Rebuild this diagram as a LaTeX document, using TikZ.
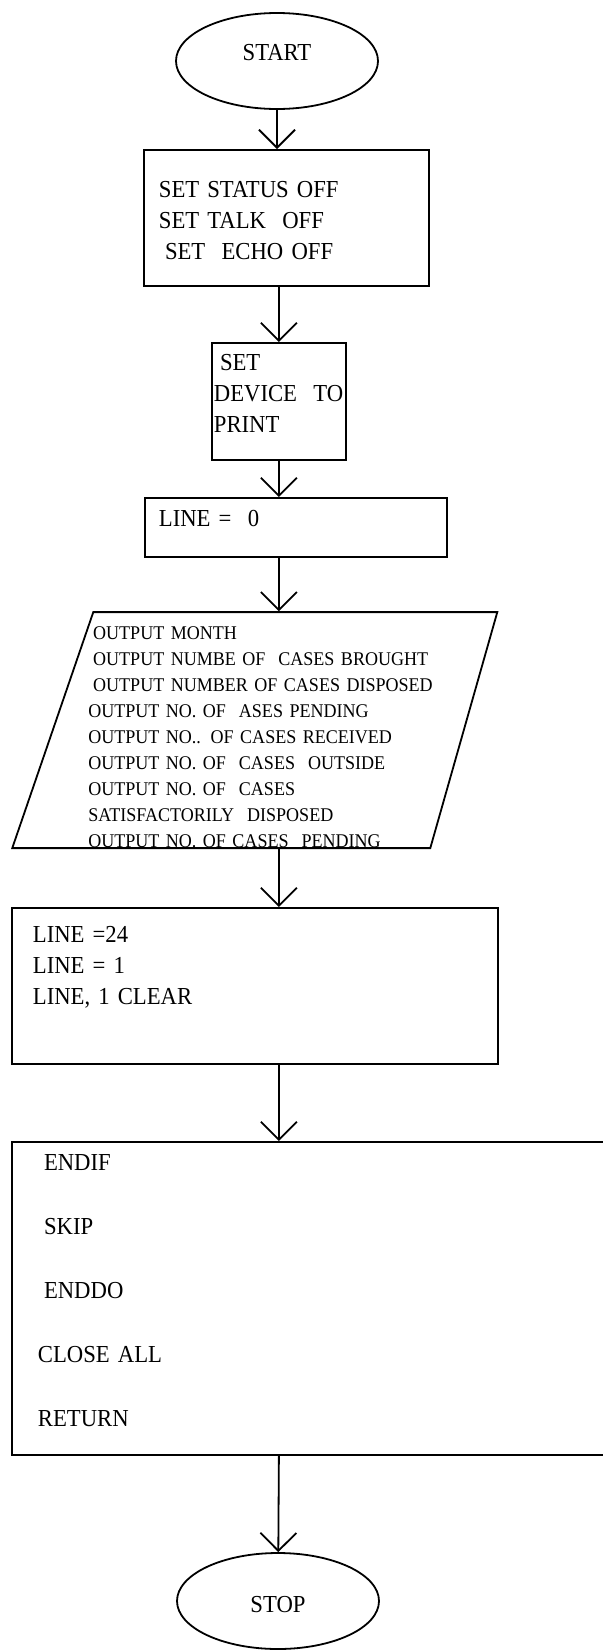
\documentclass[tikz,border=0pt]{standalone}
\usepackage{fontspec}
\setmainfont{Liberation Serif}[FakeStretch=0.93]
\usetikzlibrary{shapes.geometric,arrows.meta}

\tikzset{
  term/.style={ellipse, draw, minimum width=101pt, minimum height=48pt, inner sep=0pt},
  procbox/.style={rectangle, draw, anchor=north west, inner sep=0pt, align=left, text height=8pt},
  iobox/.style={trapezium, draw, trapezium stretches=true, trapezium left angle=68.9,
    trapezium right angle=107.7, inner xsep=-2.5pt, inner ysep=0pt, align=left, text height=7pt},
  flow/.style={-{Straight Barb[length=9pt,width=18pt]}},
}
\newcommand{\lsp}{\hspace*{0.25em}}

\begin{document}
\begin{tikzpicture}[x=0.5pt, y=-0.5pt, line width=0.9pt, font=\fontsize{12.2}{15.5}\selectfont]
\useasboundingbox (0,0) rectangle (603,1650);

\node[term, text height=8.75pt, text depth=9.75pt] (start) at (277,61) {START};

\node[procbox, minimum width=142.5pt, minimum height=68pt, text width=127.5pt, text depth=28pt]
  (setoff) at (143,149) {SET STATUS OFF\\SET TALK~~OFF\\\lsp SET~~ECHO OFF};

\node[procbox, minimum width=67pt, minimum height=58.5pt, text width=65pt, text depth=38.5pt]
  (device) at (211,342) {\lsp SET\\DEVICE~~TO\\PRINT};

\node[procbox, minimum width=151pt, minimum height=29.5pt, text width=137pt, text depth=8.5pt]
  (lineset) at (144,497) {LINE =~~0};

\node[iobox, minimum height=118pt, text width=173.5pt, text depth=98pt,
  font=\fontsize{9.7}{13}\selectfont, anchor=bottom left corner] (report) at (11,849)
  {\lsp OUTPUT MONTH\\
   \lsp OUTPUT NUMBE OF~~CASES BROUGHT\\
   \lsp OUTPUT NUMBER OF CASES DISPOSED\\
   OUTPUT NO. OF~~ASES PENDING\\
   OUTPUT NO.. OF CASES RECEIVED\\
   OUTPUT NO. OF~~CASES~~OUTSIDE\\
   OUTPUT NO. OF~~CASES\\
   SATISFACTORILY~~DISPOSED\\
   OUTPUT NO. OF CASES~~PENDING};

\node[procbox, minimum width=243pt, minimum height=78pt, text width=222pt, text depth=51pt]
  (counter) at (11,907) {LINE =24\\LINE = 1\\LINE, 1 CLEAR};

% box runs off the right edge of the page
\node[procbox, minimum width=314.5pt, minimum height=156.5pt, text width=288.5pt, text depth=135.5pt,
  font=\fontsize{12.2}{31.9}\selectfont]
  (closing) at (11,1141) {\lsp ENDIF\\\lsp SKIP\\\lsp ENDDO\\CLOSE ALL\\RETURN};

\node[term, text height=11pt, text depth=0pt] (stop) at (278,1601) {STOP};

\draw[flow] (start) -- (start |- setoff.north);
\draw[flow] (device.north |- setoff.south) -- (device.north);
\draw[flow] (device.south) -- (device.south |- lineset.north);
\draw[flow] (device.south |- lineset.south) -- (device.south |- report.north);
\draw[flow] (device.south |- report.south) -- (device.south |- counter.north);
\draw[flow] (device.south |- counter.south) -- (device.south |- closing.north);
\draw[flow] (device.south |- closing.south) -- (stop);
\end{tikzpicture}
\end{document}
